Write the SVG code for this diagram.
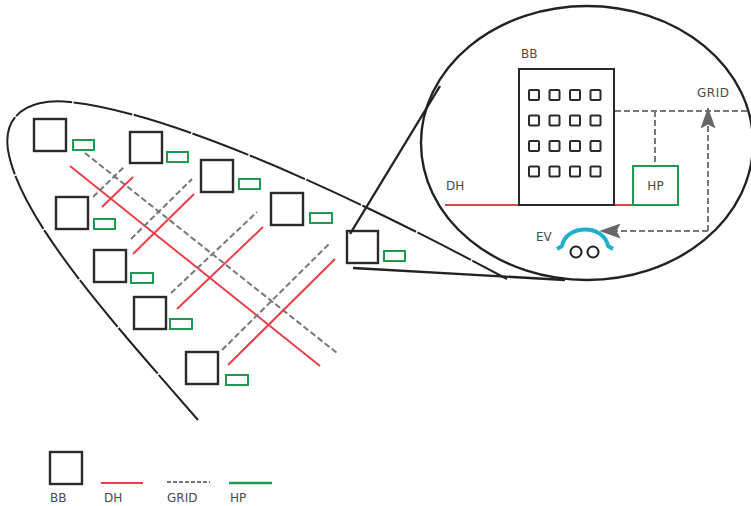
<svg xmlns="http://www.w3.org/2000/svg" width="751" height="506" viewBox="0 0 751 506">
  <style>
    .bb { fill: none; stroke: #2a2a2a; stroke-width: 2.4; }
    .hp { fill: none; stroke: #1e9a50; stroke-width: 2; }
    .dh { stroke: #e8404a; stroke-width: 2; fill: none; }
    .grid { stroke: #777; stroke-width: 2; stroke-dasharray: 6 3; fill: none; }
    .outline { fill: none; stroke: #222; stroke-width: 2; }
    .lbl { font-family: "DejaVu Sans", "Liberation Sans", sans-serif; font-size: 12px; fill: #4a4a4a; }
  </style>
  <defs>
    <marker id="arrow" viewBox="0 0 21 15" refX="20.5" refY="7.5" markerWidth="21" markerHeight="15" markerUnits="userSpaceOnUse" orient="auto">
      <path d="M0,0 L21,7.5 L0,15 L4,7.5 Z" fill="#666"/>
    </marker>
  </defs>
  <rect width="751" height="506" fill="#fff"/>

  <!-- district boundary -->
  <path class="outline" stroke-dasharray="60 1.5" d="M198,420 C122,332 20,222 8,150 C2,110 36,98 70,102 C150,110 300,168 507,279"/>

  <!-- networks -->
  <g id="connectors">
    <line class="dh" x1="70" y1="166" x2="320" y2="366"/>
    <line class="grid" x1="85" y1="153" x2="337" y2="353"/>
    <line class="grid" x1="93" y1="197" x2="125" y2="166"/>
    <line class="dh" x1="102" y1="207" x2="133" y2="177"/>
    <line class="grid" x1="131" y1="239" x2="192" y2="179"/>
    <line class="dh" x1="133" y1="254" x2="194" y2="194"/>
    <line class="grid" x1="171" y1="293" x2="257" y2="212"/>
    <line class="dh" x1="177" y1="309" x2="263" y2="227"/>
    <line class="grid" x1="222" y1="350" x2="329" y2="244"/>
    <line class="dh" x1="228" y1="365" x2="335" y2="259"/>
  </g>

  <!-- buildings with heat pumps -->
  <g id="b1"><rect class="bb" x="34" y="119" width="32" height="32"/><rect class="hp" x="73" y="140" width="21" height="10"/></g>
  <g id="b2"><rect class="bb" x="130" y="132" width="32" height="31"/><rect class="hp" x="167" y="152" width="21" height="10"/></g>
  <g id="b3"><rect class="bb" x="201" y="160" width="32" height="32"/><rect class="hp" x="239" y="179" width="21" height="10"/></g>
  <g id="b4"><rect class="bb" x="271" y="193" width="32" height="32"/><rect class="hp" x="310" y="213" width="22" height="10"/></g>
  <g id="b5"><rect class="bb" x="56" y="197" width="32" height="32"/><rect class="hp" x="94" y="219" width="21" height="10"/></g>
  <g id="b6"><rect class="bb" x="94" y="250" width="32" height="32"/><rect class="hp" x="131" y="273" width="22" height="10"/></g>
  <g id="b7"><rect class="bb" x="134" y="297" width="32" height="32"/><rect class="hp" x="170" y="319" width="22" height="10"/></g>
  <g id="b8"><rect class="bb" x="186" y="352" width="32" height="32"/><rect class="hp" x="226" y="375" width="22" height="10"/></g>
  <g id="b9"><rect class="bb" x="347" y="231" width="31" height="32"/><rect class="hp" x="384" y="251" width="21" height="10"/></g>

  <!-- magnified view -->
  <g id="zoom">
    <ellipse cx="587" cy="143" rx="166" ry="137" fill="none" stroke="#222" stroke-width="2.4"/>
    <line x1="350" y1="234" x2="440" y2="86" stroke="#222" stroke-width="2.4"/>
    <line x1="353" y1="268" x2="565" y2="280" stroke="#222" stroke-width="2.4"/>
  </g>

  <g id="detail-connectors">
    <line class="dh" x1="445" y1="205" x2="519" y2="205"/>
    <line class="dh" x1="614" y1="205" x2="633" y2="205"/>
    <line class="grid" x1="615" y1="111" x2="750" y2="111"/>
    <line class="grid" x1="655" y1="111" x2="655" y2="166"/>
    <path class="grid" d="M708,231 L708,108" marker-end="url(#arrow)" stroke-dasharray="5 3"/>
    <path class="grid" d="M708,231 L600,231" marker-end="url(#arrow)" stroke-dasharray="5 3"/>
  </g>

  <g id="building">
    <rect x="519" y="69" width="95" height="136" fill="none" stroke="#2a2a2a" stroke-width="2"/>
    <g fill="none" stroke="#2a2a2a" stroke-width="2">
      <rect x="529" y="90" width="10" height="10" rx="1"/><rect x="549.5" y="90" width="10" height="10" rx="1"/><rect x="570" y="90" width="10" height="10" rx="1"/><rect x="590.5" y="90" width="10" height="10" rx="1"/>
      <rect x="529" y="115.5" width="10" height="10" rx="1"/><rect x="549.5" y="115.5" width="10" height="10" rx="1"/><rect x="570" y="115.5" width="10" height="10" rx="1"/><rect x="590.5" y="115.5" width="10" height="10" rx="1"/>
      <rect x="529" y="141" width="10" height="10" rx="1"/><rect x="549.5" y="141" width="10" height="10" rx="1"/><rect x="570" y="141" width="10" height="10" rx="1"/><rect x="590.5" y="141" width="10" height="10" rx="1"/>
      <rect x="529" y="166.5" width="10" height="10" rx="1"/><rect x="549.5" y="166.5" width="10" height="10" rx="1"/><rect x="570" y="166.5" width="10" height="10" rx="1"/><rect x="590.5" y="166.5" width="10" height="10" rx="1"/>
    </g>
    <text class="lbl" x="521" y="58">BB</text>
  </g>

  <g id="heatpump">
    <rect x="633" y="166" width="45" height="39" fill="none" stroke="#1e9a50" stroke-width="2"/>
    <text class="lbl" x="655.5" y="190" text-anchor="middle">HP</text>
  </g>

  <g id="ev">
    <path d="M557,249 L562,246 C566,224 604,224 608,246 L613,249" fill="none" stroke="#1fb0cc" stroke-width="4" stroke-linejoin="round"/>
    <circle cx="576" cy="252" r="5.5" fill="#fff" stroke="#222" stroke-width="2"/>
    <circle cx="593" cy="252" r="5.5" fill="#fff" stroke="#222" stroke-width="2"/>
    <text class="lbl" x="536" y="241">EV</text>
  </g>

  <text class="lbl" x="446" y="190">DH</text>
  <text class="lbl" x="697" y="97" letter-spacing="0.5">GRID</text>

  <!-- legend -->
  <g id="legend">
    <rect class="bb" x="50" y="452" width="32" height="32"/>
    <text class="lbl" x="50" y="502">BB</text>
    <line class="dh" x1="101" y1="483" x2="143" y2="483" stroke-width="2.5"/>
    <text class="lbl" x="104" y="502">DH</text>
    <line x1="167" y1="482" x2="210" y2="482" stroke="#777" stroke-width="2" stroke-dasharray="4 2"/>
    <text class="lbl" x="167" y="502">GRID</text>
    <line x1="229" y1="483" x2="272" y2="483" stroke="#1e9a50" stroke-width="2.5"/>
    <text class="lbl" x="230" y="502">HP</text>
  </g>
</svg>
